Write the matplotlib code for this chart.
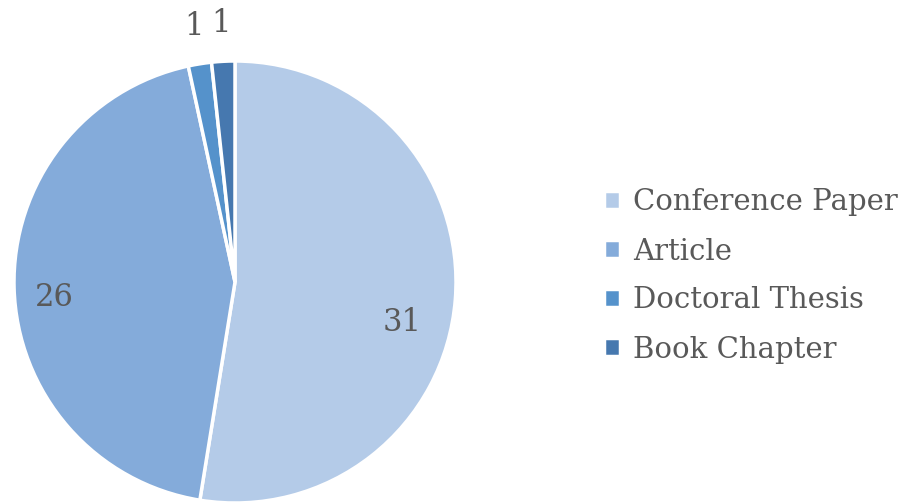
import numpy as np
import matplotlib.pyplot as plt

# Publication types
categories = ["Conference Paper", "Article", "Doctoral Thesis", "Book Chapter"]
counts = [31, 26, 1, 1]
colors = ["#B4CBE8", "#84ABDA", "#5592CB", "#4678AF"]

plt.rcParams['font.family'] = ['DejaVu Serif']
text_color = "#595959"

fig = plt.figure(figsize=(9.06, 5.03), dpi=100)
ax = fig.add_axes([14 / 906, 0, 442 / 906, 442 / 503])

wedges, texts = ax.pie(counts, colors=colors, startangle=90, counterclock=False,
                       labels=[str(c) for c in counts], labeldistance=0.8,
                       wedgeprops=dict(edgecolor="white", linewidth=2.5),
                       textprops=dict(color=text_color, fontsize=22))
ax.set_xlim(-1, 1)
ax.set_ylim(-1, 1)
ax.set_aspect("equal")

# move the labels like the office chart does
for w, t, c in zip(wedges, texts, counts):
    ang = np.deg2rad((w.theta1 + w.theta2) / 2)
    if c < 5:
        r = 1.17
    elif c == 31:
        r = 0.78
        ang -= np.deg2rad(9)
    else:
        r = 0.82
        ang += np.deg2rad(3.5)
    t.set_position((r * np.cos(ang), r * np.sin(ang)))
    t.set_ha("center")
    t.set_va("center")
    t.set_clip_on(False)

fig.legend(wedges, categories, loc="center left", bbox_to_anchor=(604 / 906, 1 - 276 / 503),
           frameon=False, fontsize=21, labelcolor=text_color, borderpad=0, borderaxespad=0,
           handlelength=0.55, handleheight=0.55, handletextpad=0.45, labelspacing=0.72)

fig.savefig("out.png")
